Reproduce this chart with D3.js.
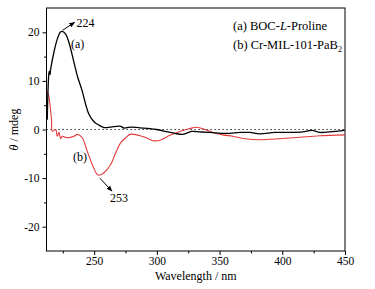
<!DOCTYPE html>
<html>
<head>
<meta charset="utf-8">
<script src="https://cdn.jsdelivr.net/npm/d3@7"></script>
<style>
  html, body { margin: 0; padding: 0; background: #fff; }
  svg { display: block; font-family: "Liberation Serif", "Times New Roman", serif; }
  text { fill: #000; }
</style>
</head>
<body>
<svg id="chart" width="375" height="289"></svg>
<script>
// Series (a) BOC-L-Proline
const wlA = [212.6, 214.0, 214.4, 214.8, 215.3, 218.0, 220.6, 223.3, 224.6, 227.3, 229.9, 233.9, 236.6, 240.5, 243.2, 245.9, 249.9, 253.8, 257.8, 263.2, 270.6, 273.8, 278.6, 286.5, 294.5, 299.8, 308.8, 314.4, 320.8, 327.7, 334.3, 342.3, 355.6, 366.2, 374.2, 382.1, 394.1, 406.0, 416.4, 423.6, 429.9, 437.9, 449.8];
const valA = [2.0, 11.7, 12.0, 11.3, 12.4, 16.0, 18.6, 20.1, 20.2, 19.6, 17.9, 13.8, 11.0, 7.9, 5.2, 3.1, 1.6, 0.9, 0.4, 0.5, 0.7, 0.3, 0.5, 0.35, 0.2, 0.0, -0.5, -0.8, -1.0, -0.4, -0.5, -0.6, -0.8, -0.6, -0.6, -0.9, -0.6, -0.6, -0.5, -0.2, -0.6, -0.5, -0.2];
// Series (b) Cr-MIL-101-PaB2
const wlB = [212.2, 213.5, 214.8, 216.0, 216.6, 219.3, 220.6, 222.0, 223.3, 224.6, 228.6, 233.9, 236.6, 240.5, 244.5, 248.5, 252.5, 253.9, 257.8, 263.2, 267.2, 271.2, 275.2, 278.6, 283.9, 290.5, 296.9, 302.4, 310.4, 318.4, 326.3, 332.0, 338.3, 344.7, 352.6, 360.6, 370.2, 382.1, 398.0, 414.0, 429.9, 449.8];
const valB = [7.8, 7.2, 5.0, 2.0, -0.35, 0.0, -1.4, -0.6, -1.9, -1.4, -1.7, -1.4, -1.0, -1.7, -4.5, -7.2, -9.3, -9.4, -8.9, -7.2, -4.8, -2.7, -1.7, -1.0, -1.1, -1.6, -2.3, -2.2, -1.2, -0.4, 0.2, 0.45, 0.0, -0.6, -1.1, -1.4, -1.9, -2.1, -1.9, -1.6, -1.3, -1.1];

const xMajor = [250, 300, 350, 400, 450];
const xMinor = [225, 275, 325, 375, 425];
const yMajor = [-20, -10, 0, 10, 20];
const yMinor = [-15, -5, 5, 15];
const xDomain = [212, 450];
const yDomain = [-25, 25];
const peakA = [224, 20.2];
const peakB = [253, -9.4];

const svg = d3.select("#chart");
const L = 46.5, R = 345, T = 8, B = 251;
const x = d3.scaleLinear().domain(xDomain).range([L, R]);
const y = d3.scaleLinear().domain(yDomain).range([B, T]);

// frame
svg.append("rect").attr("x", L).attr("y", T).attr("width", R - L).attr("height", B - T)
  .attr("fill", "none").attr("stroke", "#000").attr("stroke-width", 1);

// axes
const fmt = d => (d < 0 ? "-" + Math.abs(d) : String(d));
const xAx = svg.append("g").attr("transform", `translate(0,${B})`)
  .call(d3.axisBottom(x).tickValues(xMajor).tickSize(4).tickPadding(2).tickFormat(fmt));
const xAxm = svg.append("g").attr("transform", `translate(0,${B})`)
  .call(d3.axisBottom(x).tickValues(xMinor).tickSize(2.5).tickFormat(""));
const yAx = svg.append("g").attr("transform", `translate(${L},0)`)
  .call(d3.axisLeft(y).tickValues(yMajor).tickSize(4).tickPadding(3).tickFormat(fmt));
const yAxm = svg.append("g").attr("transform", `translate(${L},0)`)
  .call(d3.axisLeft(y).tickValues(yMinor).tickSize(2.5).tickFormat(""));
[xAx, xAxm, yAx, yAxm].forEach(g => {
  g.select(".domain").remove();
  g.selectAll("line").attr("stroke", "#000");
  g.selectAll("text").attr("fill", "#000").style("font-family", "Liberation Serif").style("font-size", "11.5px");
});

// zero dotted line
svg.append("line").attr("x1", L).attr("x2", R).attr("y1", y(0)).attr("y2", y(0))
  .attr("stroke", "#000").attr("stroke-width", 1).attr("stroke-dasharray", "1.2,2.8");

const line = d3.line().x(d => x(d[0])).y(d => y(d[1])).curve(d3.curveCatmullRom.alpha(0.5));
svg.append("path").datum(wlB.map((w, i) => [w, valB[i]])).attr("d", line)
  .attr("fill", "none").attr("stroke", "#e23b3b").attr("stroke-width", 1.1);
svg.append("path").datum(wlA.map((w, i) => [w, valA[i]])).attr("d", line)
  .attr("fill", "none").attr("stroke", "#000").attr("stroke-width", 1.3);

// arrow marker
svg.append("defs").append("marker").attr("id", "ah").attr("viewBox", "0 0 10 10")
  .attr("refX", 9).attr("refY", 5).attr("markerWidth", 6).attr("markerHeight", 6)
  .attr("markerUnits", "userSpaceOnUse").attr("orient", "auto")
  .append("path").attr("d", "M0,1 L10,5 L0,9 z").attr("fill", "#000");

// annotation 224
svg.append("line").attr("x1", x(peakA[0]) + 1).attr("y1", y(peakA[1]) - 1)
  .attr("x2", x(peakA[0]) + 13).attr("y2", y(peakA[1]) - 9)
  .attr("stroke", "#000").attr("stroke-width", 1).attr("marker-end", "url(#ah)");
svg.append("text").attr("x", x(peakA[0]) + 15).attr("y", y(peakA[1]) - 4)
  .attr("fill", "#000").attr("font-size", 12).text("224");
// annotation 253
svg.append("line").attr("x1", x(peakB[0]) + 2).attr("y1", y(peakB[1]) + 3)
  .attr("x2", x(peakB[0]) + 14).attr("y2", y(peakB[1]) + 16)
  .attr("stroke", "#000").attr("stroke-width", 1).attr("marker-end", "url(#ah)");
svg.append("text").attr("x", x(peakB[0]) + 12).attr("y", y(peakB[1]) + 27)
  .attr("fill", "#000").attr("font-size", 12).text("253");

// curve labels
svg.append("text").attr("x", 71).attr("y", 48).attr("fill", "#000").attr("font-size", 12).text("(a)");
svg.append("text").attr("x", 73).attr("y", 161).attr("fill", "#000").attr("font-size", 12).text("(b)");

// legend
const lg1 = svg.append("text").attr("x", 233).attr("y", 30).attr("fill", "#000").attr("font-size", 12.5);
lg1.append("tspan").text("(a) BOC-");
lg1.append("tspan").attr("font-style", "italic").text("L");
lg1.append("tspan").text("-Proline");
const lg2 = svg.append("text").attr("x", 233).attr("y", 49).attr("fill", "#000").attr("font-size", 12.5);
lg2.append("tspan").text("(b) Cr-MIL-101-PaB");
lg2.append("tspan").attr("font-size", 8).attr("dy", 3).text("2");

// axis titles
svg.append("text").attr("x", (L + R) / 2).attr("y", 280).attr("text-anchor", "middle")
  .attr("fill", "#000").attr("font-size", 12).text("Wavelength / nm");
const yt = svg.append("text").attr("transform", `translate(18,${y(0)}) rotate(-90)`)
  .attr("text-anchor", "middle").attr("fill", "#000").attr("font-size", 12);
yt.append("tspan").attr("font-style", "italic").text("θ");
yt.append("tspan").text(" / mdeg");
</script>
</body>
</html>
